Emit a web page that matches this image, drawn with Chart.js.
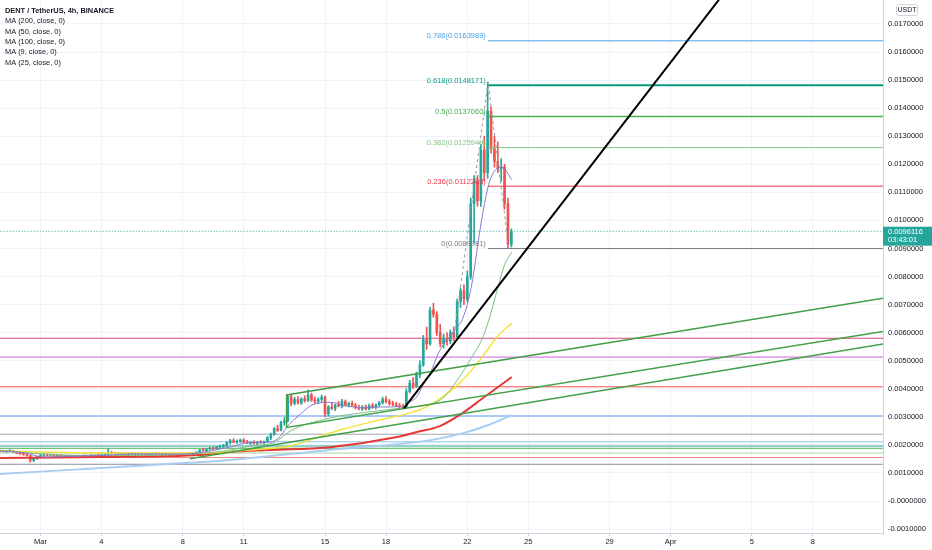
<!DOCTYPE html>
<html>
<head>
<meta charset="utf-8">
<script src="https://cdn.jsdelivr.net/npm/chart.js@4.4.0/dist/chart.umd.min.js"></script>
<style>
  html, body { margin: 0; padding: 0; background: #fff; }
  #wrap { position: relative; width: 932px; height: 550px; }
</style>
</head>
<body>
<div id="wrap"><canvas id="chart" width="932" height="550"></canvas></div>
<script>
// day 0 = 1 Mar 00:00, one candle every 4h starting 27 Feb 00:00
const firstCandleDay = -2;
const candleStep = 1 / 6;

const candleOpen = [
  0.00178,0.00177,0.00176,0.00178,0.00179,0.00175,0.00170,0.00168,0.00165,0.00162,
  0.00145,0.00152,0.00157,0.00163,0.00165,0.00163,0.00164,0.00161,0.00162,0.00160,
  0.00162,0.00159,0.00160,0.00158,0.00159,0.00161,0.00160,0.00162,0.00161,0.00163,
  0.00162,0.00165,0.00166,0.00172,0.00168,0.00170,0.00167,0.00168,0.00166,0.00169,
  0.00167,0.00168,0.00166,0.00167,0.00165,0.00166,0.00168,0.00167,0.00166,0.00167,
  0.00165,0.00166,0.00168,0.00167,0.00166,0.00167,0.00169,0.00168,0.00171,0.00174,
  0.00182,0.00180,0.00185,0.00188,0.00186,0.00192,0.00195,0.00197,0.00208,0.00215,
  0.00210,0.00213,0.00217,0.00210,0.00206,0.00209,0.00205,0.00210,0.00208,0.00212,
  0.00226,0.00238,0.00258,0.00252,0.00280,0.00285,0.00372,0.00348,0.00362,0.00350,
  0.00364,0.00358,0.00378,0.00360,0.00355,0.00362,0.00370,0.00310,0.00335,0.00330,
  0.00342,0.00338,0.00355,0.00342,0.00348,0.00340,0.00333,0.00330,0.00335,0.00328,
  0.00340,0.00334,0.00342,0.00350,0.00362,0.00355,0.00348,0.00344,0.00340,0.00336,
  0.00332,0.00390,0.00420,0.00410,0.00450,0.00485,0.00575,0.00560,0.00680,0.00665,
  0.00600,0.00560,0.00580,0.00570,0.00600,0.00585,0.00710,0.00750,0.00720,0.00800,
  0.01060,0.01140,0.01070,0.01250,0.01170,0.01390,0.01255,0.01210,0.01185,0.01190,
  0.01060,0.00915
];
const candleHigh = [
  0.00182,0.00180,0.00179,0.00183,0.00181,0.00177,0.00173,0.00171,0.00168,0.00164,
  0.00155,0.00160,0.00166,0.00168,0.00168,0.00167,0.00166,0.00164,0.00165,0.00163,
  0.00164,0.00162,0.00163,0.00161,0.00162,0.00164,0.00163,0.00165,0.00164,0.00167,
  0.00166,0.00170,0.00186,0.00178,0.00172,0.00173,0.00170,0.00171,0.00170,0.00172,
  0.00170,0.00171,0.00169,0.00170,0.00168,0.00169,0.00171,0.00170,0.00169,0.00170,
  0.00168,0.00169,0.00171,0.00170,0.00169,0.00171,0.00172,0.00172,0.00176,0.00184,
  0.00188,0.00187,0.00192,0.00193,0.00195,0.00199,0.00202,0.00212,0.00220,0.00222,
  0.00218,0.00221,0.00223,0.00216,0.00212,0.00215,0.00212,0.00215,0.00214,0.00230,
  0.00242,0.00262,0.00270,0.00285,0.00298,0.00380,0.00380,0.00370,0.00372,0.00368,
  0.00375,0.00396,0.00385,0.00370,0.00368,0.00378,0.00374,0.00340,0.00350,0.00345,
  0.00355,0.00362,0.00360,0.00352,0.00356,0.00348,0.00342,0.00340,0.00342,0.00345,
  0.00348,0.00346,0.00355,0.00370,0.00372,0.00362,0.00356,0.00352,0.00348,0.00345,
  0.00400,0.00430,0.00440,0.00460,0.00500,0.00590,0.00620,0.00690,0.00705,0.00675,
  0.00630,0.00595,0.00600,0.00610,0.00620,0.00720,0.00760,0.00770,0.00820,0.01080,
  0.01160,0.01160,0.01270,0.01300,0.01493,0.01405,0.01300,0.01280,0.01220,0.01200,
  0.01080,0.00970
];
const candleLow = [
  0.00175,0.00174,0.00173,0.00176,0.00174,0.00169,0.00166,0.00163,0.00160,0.00138,
  0.00140,0.00148,0.00154,0.00159,0.00161,0.00160,0.00160,0.00158,0.00159,0.00157,
  0.00158,0.00156,0.00157,0.00155,0.00156,0.00158,0.00157,0.00159,0.00158,0.00160,
  0.00160,0.00162,0.00164,0.00166,0.00164,0.00165,0.00163,0.00164,0.00163,0.00165,
  0.00164,0.00165,0.00163,0.00164,0.00162,0.00163,0.00165,0.00164,0.00163,0.00164,
  0.00162,0.00163,0.00165,0.00164,0.00163,0.00164,0.00166,0.00165,0.00168,0.00172,
  0.00178,0.00177,0.00182,0.00183,0.00184,0.00188,0.00190,0.00195,0.00203,0.00207,
  0.00205,0.00208,0.00208,0.00204,0.00201,0.00203,0.00200,0.00205,0.00203,0.00210,
  0.00218,0.00234,0.00248,0.00250,0.00270,0.00282,0.00340,0.00342,0.00345,0.00344,
  0.00352,0.00355,0.00355,0.00348,0.00347,0.00355,0.00300,0.00302,0.00325,0.00322,
  0.00335,0.00332,0.00338,0.00335,0.00338,0.00328,0.00325,0.00322,0.00324,0.00325,
  0.00330,0.00328,0.00338,0.00345,0.00350,0.00342,0.00340,0.00336,0.00332,0.00328,
  0.00330,0.00385,0.00400,0.00405,0.00440,0.00480,0.00540,0.00555,0.00655,0.00590,
  0.00550,0.00545,0.00555,0.00560,0.00570,0.00580,0.00690,0.00700,0.00710,0.00790,
  0.00920,0.01050,0.01050,0.01140,0.01150,0.01240,0.01190,0.01170,0.01140,0.01040,
  0.00900,0.00905
];
const candleClose = [
  0.00177,0.00176,0.00178,0.00179,0.00175,0.00170,0.00168,0.00165,0.00162,0.00145,
  0.00152,0.00157,0.00163,0.00165,0.00163,0.00164,0.00161,0.00162,0.00160,0.00162,
  0.00159,0.00160,0.00158,0.00159,0.00161,0.00160,0.00162,0.00161,0.00163,0.00162,
  0.00165,0.00166,0.00172,0.00168,0.00170,0.00167,0.00168,0.00166,0.00169,0.00167,
  0.00168,0.00166,0.00167,0.00165,0.00166,0.00168,0.00167,0.00166,0.00167,0.00165,
  0.00166,0.00168,0.00167,0.00166,0.00167,0.00169,0.00168,0.00171,0.00174,0.00182,
  0.00180,0.00185,0.00188,0.00186,0.00192,0.00195,0.00197,0.00208,0.00215,0.00210,
  0.00213,0.00217,0.00210,0.00206,0.00209,0.00205,0.00210,0.00208,0.00212,0.00226,
  0.00238,0.00258,0.00252,0.00280,0.00285,0.00372,0.00348,0.00362,0.00350,0.00364,
  0.00358,0.00378,0.00360,0.00355,0.00362,0.00370,0.00310,0.00335,0.00330,0.00342,
  0.00338,0.00355,0.00342,0.00348,0.00340,0.00333,0.00330,0.00335,0.00328,0.00340,
  0.00334,0.00342,0.00350,0.00362,0.00355,0.00348,0.00344,0.00340,0.00336,0.00332,
  0.00390,0.00420,0.00410,0.00450,0.00485,0.00575,0.00560,0.00680,0.00665,0.00600,
  0.00560,0.00580,0.00570,0.00600,0.00585,0.00710,0.00750,0.00720,0.00800,0.01060,
  0.01140,0.01070,0.01250,0.01170,0.01390,0.01255,0.01210,0.01185,0.01190,0.01060,
  0.00915,0.00961
];

// moving averages: [day, price]
const ma200 = [[-2.0,0.00096],[4.65,0.00125],[9.3,0.00146],[14.2,0.00182],[19.2,0.00217],[20.8,0.00242],[22.0,0.00270],[23.19,0.00306]];
const ma100 = [[-2.0,0.00153],[2.93,0.00157],[7.85,0.00164],[9.32,0.00175],[11.29,0.00182],[14.24,0.00192],[17.54,0.00228],[18.52,0.00246],[19.65,0.00267],[20.78,0.00314],[21.77,0.00367],[23.19,0.00442]];
const ma50 = [[-2.0,0.00178],[2.93,0.00171],[7.85,0.00171],[10.3,0.00182],[12.27,0.00196],[14.73,0.00253],[16.7,0.00289],[18.18,0.00314],[19.16,0.00342],[20.63,0.00421],[21.62,0.00502],[22.45,0.00584],[23.19,0.00634]];
const ma25 = [[-2.0,0.00180],[1.0,0.00164],[4.0,0.00162],[7.0,0.00166],[9.0,0.00178],[10.5,0.00198],[11.5,0.00208],[12.3,0.00250],[14.2,0.00295],[16.7,0.00322],[18.2,0.00335],[19.2,0.00345],[19.8,0.00367],[20.5,0.00430],[21.2,0.00510],[21.8,0.00590],[22.2,0.00680],[22.5,0.00760],[22.85,0.00845],[23.19,0.00887]];
const ma9 = [[-2.0,0.00178],[-0.8,0.00172],[0.2,0.00156],[1.5,0.00160],[3.4,0.00163],[4.4,0.00168],[6.9,0.00167],[7.9,0.00173],[9.3,0.00192],[10.3,0.00208],[11.3,0.00210],[11.8,0.00230],[12.1,0.00262],[12.8,0.00310],[13.3,0.00340],[14.2,0.00352],[15.0,0.00340],[15.9,0.00332],[16.7,0.00335],[17.8,0.00337],[18.2,0.00355],[18.5,0.00370],[18.8,0.00410],[19.2,0.00460],[19.6,0.00530],[20.0,0.00575],[20.4,0.00610],[20.8,0.00655],[21.2,0.00765],[21.7,0.01000],[22.1,0.01140],[22.7,0.01190],[23.19,0.01145]];

// horizontal levels drawn across the whole chart
const levelPrices = [0.00580, 0.00513, 0.00407, 0.00303, 0.00238, 0.00211, 0.00196, 0.00188, 0.00171, 0.00155, 0.00131];
const levelColors = ['#e2457a', '#cf5fe0', '#ef5350', '#5b9cf6', '#a3a6af', '#8cc3f2', '#26a69a', '#4caf50', '#a5d6a7', '#f28b82', '#8a8d96'];

// fib trend-based extension
const fibRatios = [0, 0.236, 0.382, 0.5, 0.618, 0.786];
const fibPrices = [0.0089981, 0.0112203, 0.0125949, 0.0137060, 0.0148171, 0.0163989];
const fibColors = ['#787b86', '#f23645', '#81c784', '#4caf50', '#089981', '#4a9fe0'];
const fibWidths = [1, 1, 1, 1.5, 2, 1];
const fibStartDay = 22.01;
const fibPath = [[20.27,0.00551],[22.02,0.01493],[23.04,0.00900]];

// other drawings
const blackTrend = [[17.88,0.00330],[34.0,0.01845]];
const channel = [[41.45,0.00604],[12.11,0.00262],[12.11,0.00378],[41.45,0.00723]];
const lowerTrend = [[7.35,0.00151],[41.45,0.00560]];
const lastPrice = 0.0096116;
const countdown = '03:43:01';

const dateTickDays = [0, 3, 7, 10, 14, 17, 21, 24, 28, 31, 35, 38];
const dateTickLabels = ['Mar', '4', '8', '11', '15', '18', '22', '25', '29', 'Apr', '5', '8'];
const legendLines = ['DENT / TetherUS, 4h, BINANCE', 'MA (200, close, 0)', 'MA (50, close, 0)', 'MA (100, close, 0)', 'MA (9, close, 0)', 'MA (25, close, 0)'];

const X_MIN = -1.99, X_MAX = 41.45;
const FONT = '"Liberation Sans", Arial, sans-serif';
const UP = '#26a69a', DOWN = '#ef5350';

const candleDays = candleOpen.map((_, i) => firstCandleDay + i * candleStep);
const candleColors = candleOpen.map((o, i) => candleClose[i] >= o ? UP : DOWN);
const pts = arr => arr.map(p => ({ x: p[0], y: p[1] }));

function lineSet(data, color, width, order, extra) {
  return Object.assign({
    type: 'line', data: data, borderColor: color, borderWidth: width,
    pointRadius: 0, tension: 0, fill: false, order: order
  }, extra || {});
}

const datasets = [];

levelPrices.forEach((p, i) => {
  datasets.push(lineSet([{ x: X_MIN - 1, y: p }, { x: X_MAX + 1, y: p }], levelColors[i], 1, 60));
});
datasets.push(lineSet([{ x: X_MIN - 1, y: lastPrice }, { x: X_MAX + 1, y: lastPrice }], UP, 1, 55, { borderDash: [1, 2] }));

datasets.push({
  type: 'bar', order: 41, grouped: false, barThickness: 1,
  data: candleDays.map((d, i) => ({ x: d, y: [candleLow[i], candleHigh[i]] })),
  backgroundColor: candleColors
});
datasets.push({
  type: 'bar', order: 40, grouped: false, barThickness: 2, minBarLength: 1,
  data: candleDays.map((d, i) => ({ x: d, y: [candleOpen[i], candleClose[i]] })),
  backgroundColor: candleColors
});

datasets.push(lineSet(pts(ma200), '#a9cdf2', 2, 30, { cubicInterpolationMode: 'monotone' }));
datasets.push(lineSet(pts(ma100), '#e53935', 2, 29, { cubicInterpolationMode: 'monotone' }));
datasets.push(lineSet(pts(ma50), '#f5e23a', 1.5, 28, { cubicInterpolationMode: 'monotone' }));
datasets.push(lineSet(pts(ma25), '#7cbf7f', 1, 27, { cubicInterpolationMode: 'monotone' }));
datasets.push(lineSet(pts(ma9), '#8a78d0', 1, 26, { cubicInterpolationMode: 'monotone' }));

datasets.push(lineSet(pts(channel), '#43a047', 1.5, 20));
datasets.push(lineSet(pts(lowerTrend), '#43a047', 1.5, 20));
fibPrices.forEach((p, i) => {
  datasets.push(lineSet([{ x: fibStartDay, y: p }, { x: X_MAX + 1, y: p }], fibColors[i], fibWidths[i], 15));
});
datasets.push(lineSet(pts(fibPath), '#9598a1', 1, 14, { borderDash: [3, 3] }));
datasets.push(lineSet(pts(blackTrend), '#000000', 2, 10));

const textPlugin = {
  id: 'texts',
  afterDraw(chart) {
    const ctx = chart.ctx;
    const xs = chart.scales.x, ys = chart.scales.y;
    const area = chart.chartArea;
    ctx.save();

    // legend
    ctx.textAlign = 'left';
    ctx.textBaseline = 'middle';
    ctx.fillStyle = '#131722';
    legendLines.forEach((t, i) => {
      ctx.font = (i === 0 ? 'bold ' : '') + '7.4px ' + FONT;
      ctx.fillText(t, 5, 10.7 + i * 10.4);
    });

    // fib labels
    ctx.textAlign = 'right';
    ctx.font = '7.5px ' + FONT;
    const fx = xs.getPixelForValue(fibStartDay) - 2;
    fibPrices.forEach((p, i) => {
      ctx.fillStyle = fibColors[i];
      ctx.fillText(fibRatios[i] + '(' + p.toFixed(7) + ')', fx, ys.getPixelForValue(p) - 4.5);
    });

    // last price tag
    const py = ys.getPixelForValue(lastPrice);
    ctx.fillStyle = UP;
    ctx.fillRect(area.right, py - 4.6, chart.width - area.right, 19);
    ctx.fillStyle = '#ffffff';
    ctx.textAlign = 'left';
    ctx.font = '7.5px ' + FONT;
    ctx.fillText(lastPrice.toFixed(7), area.right + 5, py + 0.5);
    ctx.fillText(countdown, area.right + 5, py + 9);

    // currency box
    ctx.strokeStyle = '#d1d4dc';
    ctx.lineWidth = 1;
    ctx.beginPath();
    ctx.roundRect(896.5, 4.5, 21, 11, 2);
    ctx.stroke();
    ctx.fillStyle = '#131722';
    ctx.textAlign = 'center';
    ctx.font = '7px ' + FONT;
    ctx.fillText('USDT', 907, 10.3);
    ctx.restore();
  }
};

function noPad(scale) {
  scale.paddingTop = 0;
  scale.paddingBottom = 0;
  scale.paddingLeft = 0;
  scale.paddingRight = 0;
}

new Chart(document.getElementById('chart'), {
  type: 'bar',
  data: { datasets: datasets },
  options: {
    responsive: false,
    animation: false,
    devicePixelRatio: 1,
    events: [],
    layout: { padding: 0 },
    plugins: { legend: { display: false }, tooltip: { enabled: false } },
    scales: {
      x: {
        type: 'linear', min: X_MIN, max: X_MAX, offset: false,
        grid: { color: '#f0f3fa', offset: false, tickLength: 3, tickColor: '#c8cbd3' },
        border: { color: '#d1d4dc' },
        afterBuildTicks(scale) { scale.ticks = dateTickDays.map(v => ({ value: v })); },
        afterFit(scale) { scale.height = 17; noPad(scale); },
        ticks: {
          autoSkip: false, maxRotation: 0, padding: 1,
          font: { size: 7.5, family: FONT }, color: '#131722',
          callback: (v, i) => dateTickLabels[i]
        }
      },
      y: {
        type: 'linear', position: 'right', min: -0.00114, max: 0.017855,
        grid: { color: '#f0f3fa', drawTicks: false },
        border: { color: '#d1d4dc' },
        afterFit(scale) { scale.width = 49; noPad(scale); },
        ticks: {
          stepSize: 0.001, includeBounds: false, padding: 5,
          font: { size: 7.5, family: FONT }, color: '#131722',
          callback: v => Math.abs(v) < 1e-9 ? '-0.0000000' : v.toFixed(7)
        }
      }
    }
  },
  plugins: [textPlugin]
});
</script>
</body>
</html>
